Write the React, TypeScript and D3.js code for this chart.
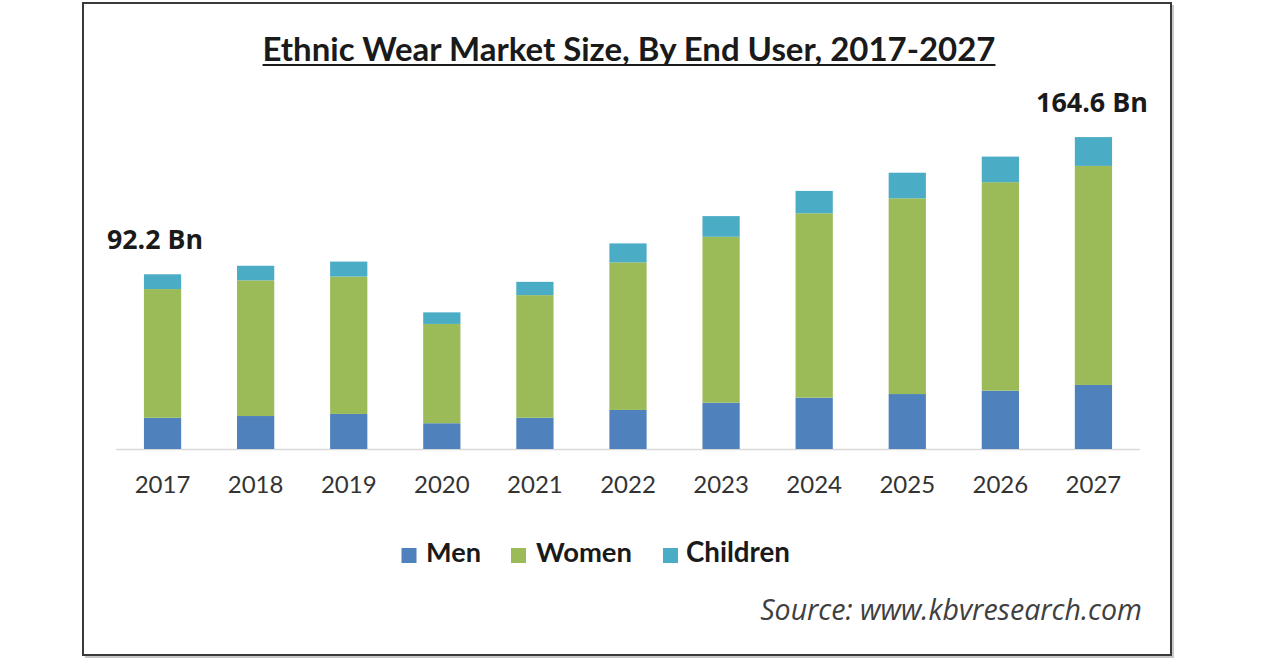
import React, { useEffect, useRef } from "react";
import * as d3 from "d3";

const years = ["2017", "2018", "2019", "2020", "2021", "2022", "2023", "2024", "2025", "2026", "2027"];
const men = [16.5, 17.4, 18.5, 13.6, 16.5, 20.6, 24.4, 27.1, 29.0, 30.8, 33.8];
const women = [67.9, 71.6, 72.5, 52.4, 64.7, 77.9, 87.6, 97.3, 103.3, 110.0, 115.6];
const children = [7.8, 7.7, 7.9, 6.1, 7.0, 10.0, 10.9, 11.8, 13.5, 13.5, 15.2];
const seriesNames = ["Men", "Women", "Children"];
const seriesColors = ["#4F81BD", "#9BBB59", "#4BACC6"];
const title = "Ethnic Wear Market Size, By End User, 2017-2027";
const firstLabel = "92.2 Bn";
const lastLabel = "164.6 Bn";
const source = "Source: www.kbvresearch.com";

const LATO = "Lato, 'Open Sans', sans-serif";
const OPEN = "'Open Sans', Lato, sans-serif";

export default function App() {
  const ref = useRef<SVGSVGElement>(null);

  useEffect(() => {
    const svg = d3.select(ref.current);
    svg.selectAll("*").remove();

    // fit text to a target width by adjusting font size
    const fit = (sel: any, target: number) => {
      const node = sel.node() as SVGTextElement;
      const w = node.getComputedTextLength();
      const fs = parseFloat(sel.attr("font-size"));
      if (w > 0) sel.attr("font-size", (fs * target) / w);
      return sel;
    };

    // frame with shadow
    svg.append("rect").attr("x", 85).attr("y", 5).attr("width", 1089).attr("height", 653).attr("fill", "#c8c8c8");
    svg.append("rect").attr("x", 83).attr("y", 3).attr("width", 1088).attr("height", 652)
      .attr("fill", "#fff").attr("stroke", "#3a3a3a").attr("stroke-width", 2);

    const table = years.map((y, i) => ({ year: y, Men: men[i], Women: women[i], Children: children[i] }));
    const stack = d3.stack<any>().keys(seriesNames);
    const layers = stack(table);

    const x = d3.scaleBand().domain(years).range([116, 1140]).paddingInner(0.6).paddingOuter(0.3);
    const y = d3.scaleLinear().domain([0, 170]).range([449, 449 - 170 * 1.895]);

    // title
    const t = svg.append("text").attr("x", 629).attr("y", 61).attr("text-anchor", "middle")
      .attr("font-family", LATO).attr("font-weight", 700)
      .attr("font-size", 31).attr("fill", "#1a1a1a").text(title);
    fit(t, 733);
    const tb = (t.node() as SVGTextElement).getBBox();
    svg.append("rect").attr("x", tb.x).attr("y", 64).attr("width", tb.width).attr("height", 2).attr("fill", "#1a1a1a");

    // axis line
    svg.append("line").attr("x1", 116).attr("x2", 1140).attr("y1", y(0) + 0.5).attr("y2", y(0) + 0.5)
      .attr("stroke", "#d9d9d9").attr("stroke-width", 1.5);

    // bars
    layers.forEach((layer, li) => {
      svg.append("g").selectAll("rect").data(layer).enter().append("rect")
        .attr("x", (d: any) => x(d.data.year)!)
        .attr("width", x.bandwidth())
        .attr("y", (d: any) => y(d[1]))
        .attr("height", (d: any) => y(d[0]) - y(d[1]))
        .attr("fill", seriesColors[li]);
    });

    // tick labels
    svg.append("g").selectAll("text").data(years).enter().append("text")
      .attr("x", (d) => x(d)! + x.bandwidth() / 2)
      .attr("y", 493)
      .attr("text-anchor", "middle")
      .attr("font-family", LATO)
      .attr("font-size", 24).attr("fill", "#333")
      .text((d) => d);

    // value labels
    const l1 = svg.append("text").attr("x", 155).attr("y", 249).attr("text-anchor", "middle")
      .attr("font-family", OPEN).attr("font-weight", 700)
      .attr("font-size", 24).attr("fill", "#1a1a1a").text(firstLabel);
    fit(l1, 96);
    const l2 = svg.append("text").attr("x", 1092).attr("y", 112).attr("text-anchor", "middle")
      .attr("font-family", OPEN).attr("font-weight", 700)
      .attr("font-size", 24).attr("fill", "#1a1a1a").text(lastLabel);
    fit(l2, 112);

    // legend
    const legendX = [401.5, 511, 663];
    const legendTextX = [426, 536, 686];
    const legendW = [55, 96, 104];
    seriesNames.forEach((name, i) => {
      svg.append("rect").attr("x", legendX[i]).attr("y", 548).attr("width", 15).attr("height", 15)
        .attr("fill", seriesColors[i]);
      const lt = svg.append("text").attr("x", legendTextX[i]).attr("y", 562)
        .attr("font-family", LATO).attr("font-weight", 700)
        .attr("font-size", 27).attr("fill", "#1a1a1a").text(name);
      fit(lt, legendW[i]);
    });

    // source
    const s = svg.append("text").attr("x", 1142).attr("y", 620).attr("text-anchor", "end")
      .attr("font-family", OPEN).attr("font-style", "italic")
      .attr("font-size", 24).attr("fill", "#404040").text(source);
    fit(s, 382);
  }, []);

  return (
    <svg ref={ref} width={1280} height={670}
      style={{ position: "absolute", left: 0, top: 0, background: "#fff" }} />
  );
}
